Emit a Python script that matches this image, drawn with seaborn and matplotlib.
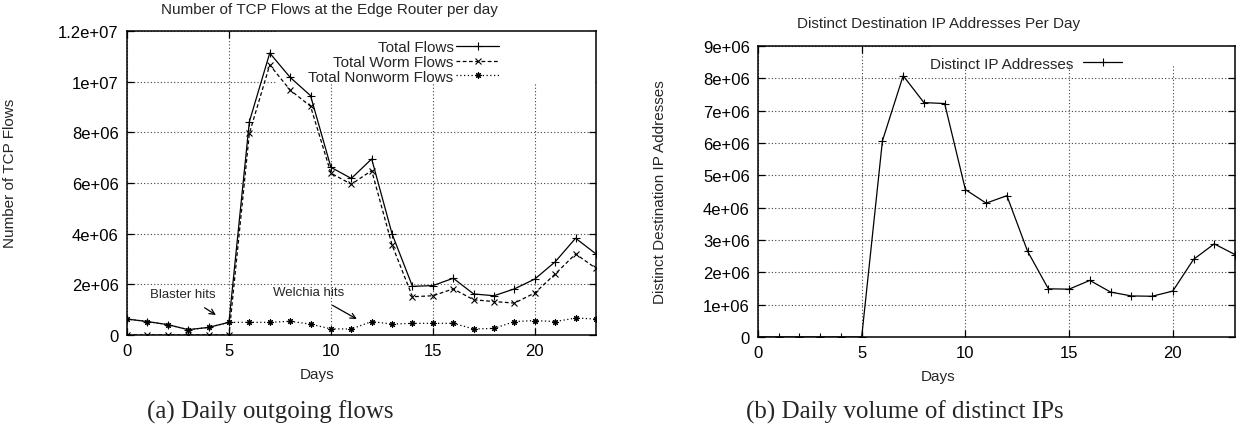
import matplotlib
matplotlib.use("Agg")
import matplotlib.pyplot as plt
from matplotlib.patches import Rectangle
from matplotlib.ticker import FormatStrFormatter
import seaborn as sns

# data
days = list(range(24))
total_flows = [0.63e6, 0.53e6, 0.41e6, 0.21e6, 0.30e6, 0.50e6, 8.42e6, 11.13e6, 10.17e6, 9.45e6,
               6.62e6, 6.18e6, 6.95e6, 3.99e6, 1.92e6, 1.95e6, 2.24e6, 1.62e6, 1.55e6, 1.82e6,
               2.21e6, 2.89e6, 3.82e6, 3.20e6]
worm_flows = [0, 0, 0, 0, 0, 0, 7.96e6, 10.66e6, 9.67e6, 9.03e6,
              6.39e6, 5.95e6, 6.49e6, 3.55e6, 1.51e6, 1.55e6, 1.82e6, 1.39e6, 1.32e6, 1.26e6,
              1.66e6, 2.41e6, 3.20e6, 2.63e6]
nonworm_flows = [0.63e6, 0.53e6, 0.41e6, 0.21e6, 0.30e6, 0.50e6, 0.50e6, 0.50e6, 0.54e6, 0.43e6,
                 0.24e6, 0.24e6, 0.53e6, 0.43e6, 0.46e6, 0.46e6, 0.46e6, 0.24e6, 0.26e6, 0.53e6,
                 0.57e6, 0.53e6, 0.67e6, 0.63e6]
distinct_ips = [0, 0, 0, 0, 0, 0, 6.07e6, 8.08e6, 7.25e6, 7.22e6,
                4.56e6, 4.14e6, 4.37e6, 2.65e6, 1.49e6, 1.48e6, 1.75e6, 1.39e6, 1.27e6, 1.26e6,
                1.42e6, 2.40e6, 2.88e6, 2.55e6]

left_yticks = [0, 2e6, 4e6, 6e6, 8e6, 1e7, 1.2e7]
right_yticks = [0, 1e6, 2e6, 3e6, 4e6, 5e6, 6e6, 7e6, 8e6, 9e6]
xticks = [0, 5, 10, 15, 20]

sns.set_style("ticks", {"xtick.direction": "in", "ytick.direction": "in"})
plt.rcParams['font.family'] = ['Liberation Sans', 'DejaVu Sans']
plt.rcParams['font.size'] = 11

fig = plt.figure(figsize=(12.37, 4.31), dpi=100)
W, H = 1237.0, 431.0
ax1 = fig.add_axes([127 / W, 1 - 336 / H, (596 - 127) / W, (336 - 32) / H])
ax2 = fig.add_axes([758 / W, 1 - 338 / H, (1235 - 758) / W, (338 - 47) / H])

asterisk = (8, 2, 0)
line_kw = dict(color='black', linewidth=0.9, markeredgecolor='black', markerfacecolor='black',
               markeredgewidth=0.8)

# left panel: flows
sns.lineplot(x=days, y=total_flows, ax=ax1, linestyle='-', marker='+', markersize=6,
             label='Total Flows', **line_kw)
sns.lineplot(x=days, y=worm_flows, ax=ax1, linestyle=(0, (3, 2)), marker='x', markersize=5,
             label='Total Worm Flows', **line_kw)
sns.lineplot(x=days, y=nonworm_flows, ax=ax1, linestyle=(0, (1, 2)), marker=asterisk,
             markersize=4.5, label='Total Nonworm Flows', **line_kw)

# right panel: distinct IPs
sns.lineplot(x=days, y=distinct_ips, ax=ax2, linestyle='-', marker='+', markersize=6,
             label='Distinct IP Addresses', **line_kw)

for ax, yt in [(ax1, left_yticks), (ax2, right_yticks)]:
    ax.set_xlim(0, 23)
    ax.set_ylim(yt[0], yt[-1])
    ax.set_xticks(xticks)
    ax.set_yticks(yt)
    ax.yaxis.set_major_formatter(FormatStrFormatter('%g'))
    ax.tick_params(direction='in', top=True, right=True, length=5, width=0.9,
                   labelsize=12, pad=6, colors='black')
    ax.grid(True, color='0.25', linestyle=(0, (1, 2)), linewidth=0.8)
    ax.set_axisbelow(True)
    for s in ax.spines.values():
        s.set_linewidth(1.1)
        s.set_color('black')

# gnuplot blanks the grid behind the key
ax1.add_patch(Rectangle((0.32, 0.826), 0.68, 0.174, transform=ax1.transAxes,
                        facecolor='white', edgecolor='none', zorder=1))
ax2.add_patch(Rectangle((0.36, 0.93), 0.64, 0.07, transform=ax2.transAxes,
                        facecolor='white', edgecolor='none', zorder=1))

ax1.legend(loc='upper right', bbox_to_anchor=(0.81, 0.995), frameon=False, markerfirst=False,
           borderpad=0, labelspacing=0.05, handlelength=2.8, handletextpad=0.2, fontsize=11)
ax2.legend(loc='upper right', bbox_to_anchor=(0.78, 0.99), frameon=False, markerfirst=False,
           borderpad=0, handlelength=2.6, handletextpad=0.6, fontsize=11)

# annotations
ax1.annotate('Blaster hits', xy=(4.36, 0.79e6), xytext=(2.75, 1.62e6), fontsize=9.5,
             ha='center', va='center',
             arrowprops=dict(arrowstyle='->', color='black', lw=0.9, shrinkA=6, shrinkB=0))
ax1.annotate('Welchia hits', xy=(11.27, 0.63e6), xytext=(8.92, 1.70e6), fontsize=9.5,
             ha='center', va='center',
             arrowprops=dict(arrowstyle='->', color='black', lw=0.9, shrinkA=6, shrinkB=0))

# titles and labels
ax1.set_title('Number of TCP Flows at the Edge Router per day', fontsize=11, va='center',
              pad=0, x=0.431, y=1.072)
ax2.set_title('Distinct Destination IP Addresses Per Day', fontsize=11, va='center',
              pad=0, x=0.379, y=1.079)

ax1.set_xlabel('Days', fontsize=11, va='center')
ax1.xaxis.set_label_coords(0.405, -0.128)
ax1.set_ylabel('Number of TCP Flows', fontsize=11, va='center')
ax1.yaxis.set_label_coords(-0.249, 0.536)
ax2.set_xlabel('Days', fontsize=11, va='center')
ax2.xaxis.set_label_coords(0.377, -0.134)
ax2.set_ylabel('Distinct Destination IP Addresses', fontsize=11, va='center')
ax2.yaxis.set_label_coords(-0.205, 0.502)

fig.text(270 / W, 1 - 412 / H, '(a) Daily outgoing flows', ha='center', va='center',
         fontsize=18, family='Liberation Serif')
fig.text(905 / W, 1 - 412 / H, '(b) Daily volume of distinct IPs', ha='center', va='center',
         fontsize=18, family='Liberation Serif')

fig.savefig('out.png', dpi=100)
